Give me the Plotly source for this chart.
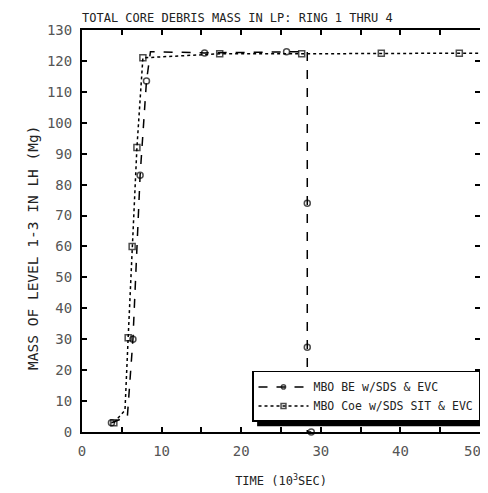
import plotly.graph_objects as go

# Series 1: MBO BE w/SDS & EVC (dashed, open circles)
be_time = [3.7, 5.7, 6.4, 7.3, 8.1, 8.6, 15.4, 25.7, 28.3, 28.3, 28.3, 28.3, 28.8]
be_mass = [3.0, 5.0, 30.0, 83.0, 113.5, 123.0, 122.6, 123.0, 123.0, 74.0, 27.4, 0.0, 0.0]
be_marker = [6, 0, 6, 6, 6, 0, 6, 6, 0, 6, 6, 0, 6]

# Series 2: MBO Coe w/SDS SIT & EVC (dotted, open squares)
coe_time = [4.0, 5.4, 5.8, 6.3, 6.9, 7.65, 17.3, 27.6, 37.6, 47.4, 50.0]
coe_mass = [3.0, 7.0, 30.5, 60.0, 92.0, 121.0, 122.3, 122.3, 122.5, 122.5, 122.5]
coe_marker = [6, 0, 6, 6, 6, 6, 6, 6, 6, 6, 0]

x_ticks = [0, 10, 20, 30, 40, 50]
y_ticks = list(range(0, 131, 10))

FONT = "DejaVu Sans Mono, monospace"
TICKFONT = dict(family=FONT, size=14, color="#555")

fig = go.Figure()
fig.add_trace(go.Scatter(
    x=be_time, y=be_mass, mode="lines+markers",
    name="MBO BE w/SDS & EVC", cliponaxis=False,
    line=dict(color="black", width=1.5, dash="dash"),
    marker=dict(symbol="circle-open", size=be_marker, color="black", line=dict(width=1.5)),
))
fig.add_trace(go.Scatter(
    x=coe_time, y=coe_mass, mode="lines+markers",
    name="MBO Coe w/SDS SIT & EVC", cliponaxis=False,
    line=dict(color="black", width=1.5, dash="dot"),
    marker=dict(symbol="square-open", size=coe_marker, color="black", line=dict(width=1.5)),
))

axis_common = dict(
    showline=True, linecolor="black", linewidth=2, mirror="ticks",
    ticks="inside", ticklen=5, tickwidth=1.5, tickcolor="black",
    showgrid=False, zeroline=False, automargin=False,
    ticklabeloverflow="allow",
    tickfont=TICKFONT,
)

# last x tick label is drawn right-aligned so it stays inside the visible window
x_ticktext = [str(v) for v in x_ticks[:-1]] + [""]
fig.update_xaxes(
    range=[0, 50], tickvals=x_ticks, ticktext=x_ticktext,
    minor=dict(dtick=5, ticks="inside", ticklen=5, tickwidth=1.5, tickcolor="black"),
    ticklabelstandoff=5,
    title=dict(text="TIME (10<sup>3</sup>SEC)", font=dict(family=FONT, size=12, color="#222"), standoff=19),
    **axis_common,
)
fig.add_annotation(text=str(x_ticks[-1]), x=x_ticks[-1], y=0, xref="x", yref="y",
                   xanchor="right", yanchor="middle", xshift=2, yshift=-19,
                   showarrow=False, font=TICKFONT, borderpad=0)

fig.update_yaxes(
    range=[0, 130], tickvals=y_ticks, ticktext=[str(v) for v in y_ticks],
    ticklabelstandoff=5,
    **axis_common,
)

# y-axis title placed as an annotation (sits slightly below the axis middle in the reference)
fig.add_annotation(text="MASS OF LEVEL 1-3 IN LH (Mg)", textangle=-90,
                   xref="paper", yref="paper", x=-0.123, y=0.458,
                   xanchor="center", yanchor="middle", showarrow=False,
                   font=dict(family=FONT, size=14.5, color="#222"))

# legend drop shadow (paper coordinates)
fig.add_shape(type="rect", xref="paper", yref="paper",
              x0=0.44, x1=1.01, y0=0.014, y1=0.136,
              fillcolor="black", line=dict(width=0), layer="above")

fig.update_layout(
    width=480, height=485,
    margin=dict(l=74, r=8, t=22, b=61),
    plot_bgcolor="white", paper_bgcolor="white",
    title=dict(text="TOTAL CORE DEBRIS MASS IN LP: RING 1 THRU 4",
               xref="paper", x=0, xanchor="left", y=0.979, yanchor="middle",
               font=dict(family=FONT, size=12, color="#222")),
    legend=dict(x=1.0, xanchor="right", y=0.025, yanchor="bottom",
                bgcolor="white", bordercolor="black", borderwidth=1.5,
                font=dict(family=FONT, size=11.5, color="#222"),
                itemwidth=50, tracegroupgap=0),
    showlegend=True,
)

fig.write_html("out.html", post_script="document.body.style.overflow='hidden';")
